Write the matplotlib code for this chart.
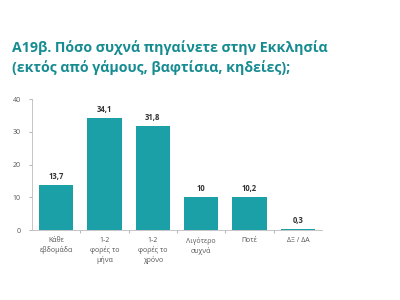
import matplotlib.pyplot as plt

# Συχνότητα επίσκεψης στην Εκκλησία (%)
categories = ['Κάθε\nεβδομάδα', '1-2\nφορές το\nμήνα', '1-2\nφορές το\nχρόνο',
              'Λιγότερο\nσυχνά', 'Ποτέ', 'ΔΞ / ΔΑ']
values = [13.7, 34.1, 31.8, 10, 10.2, 0.3]
yticks = [0, 10, 20, 30, 40]

bar_color = '#1aa0a6'
title_color = '#168c91'
axis_color = '#bbbbbb'
text_color = '#555555'

plt.rcParams['font.family'] = ['Open Sans', 'DejaVu Sans']

fig = plt.figure(figsize=(4, 3), dpi=100)
fig.text(0.03, 0.808, 'Α19β. Πόσο συχνά πηγαίνετε στην Εκκλησία\n(εκτός από γάμους, βαφτίσια, κηδείες);',
         color=title_color, fontsize=10.2, fontweight='bold', va='center', ha='left', linespacing=1.45)

ax = fig.add_axes([0.08, 0.233, 0.725, 0.437])
x = range(len(categories))
bars = ax.bar(x, values, width=0.71, color=bar_color)

for xi, v in zip(x, values):
    label = ('%g' % v).replace('.', ',')
    ax.text(xi, v + 1.2, label, ha='center', va='bottom', fontsize=5.5,
            fontweight='bold', color='#333333')

ax.set_xlim(-0.5, len(categories) - 0.5)
ax.set_ylim(0, 40)
ax.set_yticks(yticks)
ax.set_xticks([i - 0.5 for i in range(1, len(categories))], minor=False)
ax.set_xticklabels([])
ax.set_xticks(list(x), minor=True)
ax.set_xticklabels(categories, minor=True, fontsize=5, color=text_color, linespacing=1.3)
ax.tick_params(axis='x', which='minor', length=0, pad=5)
ax.tick_params(axis='x', which='major', length=2, color=axis_color)
ax.tick_params(axis='y', length=2, color=axis_color, labelsize=5, labelcolor=text_color, pad=6)

for side in ['top', 'right']:
    ax.spines[side].set_visible(False)
for side in ['left', 'bottom']:
    ax.spines[side].set_color(axis_color)
    ax.spines[side].set_linewidth(0.6)

fig.savefig('out.png', dpi=100)
